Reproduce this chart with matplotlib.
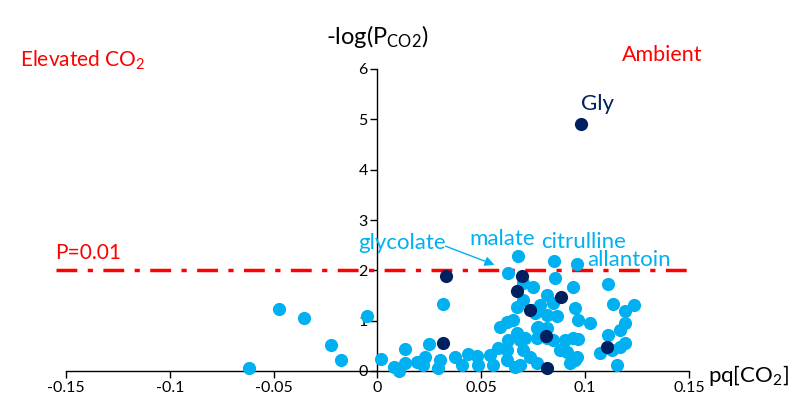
import numpy as np
import matplotlib
matplotlib.use('Agg')
import matplotlib.pyplot as plt

plt.rcParams['font.family'] = ['Lato', 'DejaVu Sans']
plt.rcParams['mathtext.fontset'] = 'custom'
plt.rcParams['mathtext.rm'] = 'Lato'
plt.rcParams['mathtext.it'] = 'Lato:italic'

# metabolites, not significant (light blue)
pq_light = [-0.0619, -0.0474, -0.0354, -0.0224, -0.0176, -0.0051, 0.0017, 0.0079, 0.0104,
            0.0132, 0.0132, 0.019, 0.0229, 0.0219, 0.0248, 0.0316, 0.0301, 0.0291, 0.0373,
            0.0407, 0.0436, 0.0479, 0.0484, 0.0542, 0.0556, 0.058, 0.059, 0.0624, 0.0653,
            0.0629, 0.0672, 0.0686, 0.0624, 0.0624, 0.0662, 0.0677, 0.0629, 0.0701, 0.0749,
            0.0701, 0.0672, 0.0759, 0.0768, 0.0768, 0.085, 0.0961, 0.0855, 0.0817, 0.0845,
            0.0942, 0.1111, 0.0783, 0.0817, 0.0865, 0.0952, 0.0966, 0.1024, 0.1135, 0.1236,
            0.1192, 0.0773, 0.0711, 0.0817, 0.0817, 0.1192, 0.1168, 0.1111, 0.0845, 0.0903,
            0.0942, 0.0966, 0.0879, 0.0913, 0.0952, 0.0961, 0.1072, 0.113, 0.1168, 0.1192,
            0.1154, 0.0701, 0.0735, 0.0768, 0.0686, 0.0927, 0.0749]
logp_light = [0.06, 1.23, 1.05, 0.52, 0.22, 1.09, 0.24, 0.08, 0.0,
              0.44, 0.16, 0.18, 0.28, 0.12, 0.54, 1.33, 0.22, 0.06, 0.28,
              0.12, 0.34, 0.30, 0.12, 0.32, 0.12, 0.46, 0.87, 0.97, 1.01,
              0.62, 0.76, 0.62, 0.42, 0.22, 0.08, 2.29, 1.95, 1.75, 1.67,
              1.41, 1.27, 1.15, 0.85, 0.66, 2.19, 2.13, 1.85, 1.51, 1.35,
              1.67, 1.73, 1.31, 1.11, 1.09, 1.25, 1.01, 0.95, 1.33, 1.31,
              1.19, 0.87, 0.66, 0.85, 0.66, 0.95, 0.82, 0.72, 0.62, 0.62,
              0.66, 0.64, 0.42, 0.38, 0.22, 0.28, 0.36, 0.42, 0.48, 0.56,
              0.12, 0.42, 0.28, 0.16, 0.12, 0.16, 1.21]

# highlighted metabolites (dark blue)
pq_dark = [0.098, 0.033, 0.0316, 0.0696, 0.0672, 0.0735, 0.0884, 0.0813, 0.1106, 0.0817]
logp_dark = [4.91, 1.89, 0.56, 1.89, 1.59, 1.21, 1.47, 0.70, 0.48, 0.06]

threshold = -np.log10(0.01)

light = '#00B0F0'
dark = '#002060'
red = '#FF0000'

fig = plt.figure(figsize=(7.98, 4.03), dpi=100)
ax = fig.add_axes((66 / 798, 32 / 403, 623 / 798, 302 / 403))

ax.scatter(pq_light, logp_light, s=90, color=light, linewidths=0, clip_on=False, zorder=3)
ax.scatter(pq_dark, logp_dark, s=90, color=dark, linewidths=0, clip_on=False, zorder=4)
ax.plot([-0.155, 0.15], [threshold, threshold], color=red, lw=2.5,
        dashes=(6, 3, 1.5, 3), clip_on=False, zorder=2)

ax.set_xlim(-0.15, 0.15)
ax.set_ylim(0, 6)
ax.spines['left'].set_position(('data', 0))
ax.spines['bottom'].set_position(('data', 0))
ax.spines['top'].set_visible(False)
ax.spines['right'].set_visible(False)
for s in ('left', 'bottom'):
    ax.spines[s].set_linewidth(1.0)
    ax.spines[s].set_color('black')
ax.set_xticks([-0.15, -0.1, -0.05, 0, 0.05, 0.1, 0.15])
ax.set_xticklabels(['-0.15', '-0.1', '-0.05', '0', '0.05', '0.1', '0.15'])
ax.set_yticks(range(7))
ax.tick_params(direction='out', length=5, width=1, labelsize=11.5, pad=2)

# annotations
ax.text(-0.155, threshold + 0.35, 'P=0.01', color=red, fontsize=15, va='center', ha='left')
ax.text(0.098, 5.31, 'Gly', color=dark, fontsize=16, va='center', ha='left')
ax.text(-0.0095, 2.54, 'glycolate', color=light, fontsize=16, va='center', ha='left')
ax.text(0.0441, 2.62, 'malate', color=light, fontsize=16, va='center', ha='left')
ax.text(0.0788, 2.57, 'citrulline', color=light, fontsize=16, va='center', ha='left')
ax.text(0.1009, 2.21, 'allantoin', color=light, fontsize=16, va='center', ha='left')
ax.annotate('', xy=(0.0576, 2.09), xytext=(0.0315, 2.5),
            arrowprops=dict(arrowstyle='-|>', color=light, lw=1, mutation_scale=14))

fig.text(20 / 798, 1 - 60 / 403, 'Elevated CO$_2$', color=red, fontsize=15, va='center', ha='left')
fig.text(622 / 798, 1 - 55 / 403, 'Ambient', color=red, fontsize=15.5, va='center', ha='left')
fig.text(377 / 798, 1 - 37 / 403, r'-log(P$_{\mathrm{CO2}}$)', color='black', fontsize=17,
         va='center', ha='center')
fig.text(708 / 798, 1 - 375 / 403, 'pq[CO$_2$]', color='black', fontsize=16,
         va='center', ha='left')

fig.savefig('out.png', dpi=100)
